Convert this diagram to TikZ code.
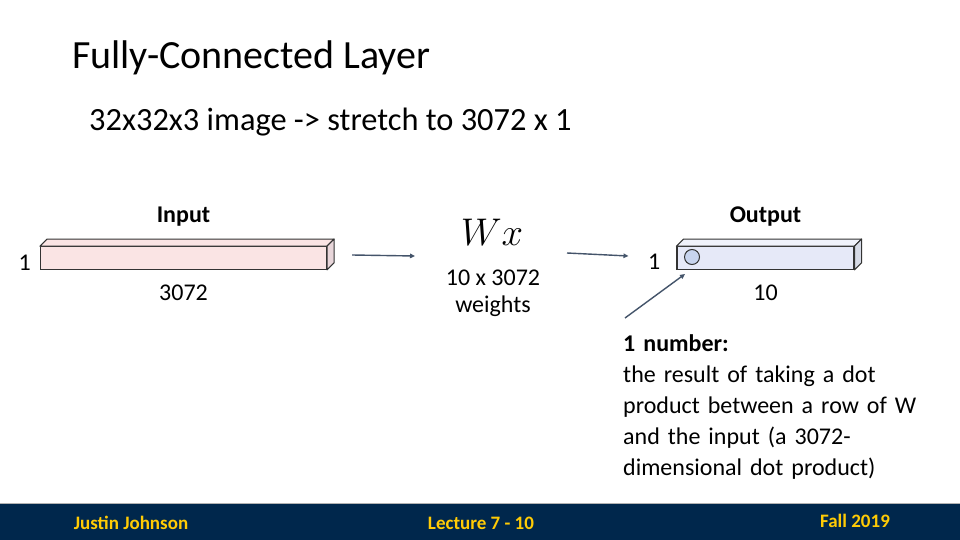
\documentclass[tikz,border=0pt]{standalone}
\usepackage{graphicx}
\usepackage{fontspec}
\setmainfont{Carlito}
\usetikzlibrary{positioning,arrows.meta}

\definecolor{pinkfront}{RGB}{250,228,228}
\definecolor{pinkside}{RGB}{232,214,218}
\definecolor{bluefront}{RGB}{230,233,248}
\definecolor{blueside}{RGB}{214,218,230}
\definecolor{dotfill}{RGB}{200,212,238}
\definecolor{arrowc}{RGB}{68,84,106}
\definecolor{navy}{RGB}{0,39,76}
\definecolor{maize}{RGB}{255,203,5}

\begin{document}
\begin{tikzpicture}[
  x=1pt,y=-1pt,
  txt/.style={inner sep=0pt,font=\fontsize{24}{27}\selectfont},
  lbl/.style={txt,font=\fontsize{24}{27}\selectfont\bfseries},
  bar/.style={draw=black!80,line width=1.1pt,minimum height=22.6pt,inner sep=0pt},
  face/.style={draw=black!80,line width=1.1pt,line join=round},
  a/.style={-{Triangle[length=5pt,width=4.5pt]},draw=arrowc,line width=1.4pt},
  foot/.style={inner sep=0pt,text=maize,font=\fontsize{19}{22}\selectfont\bfseries},
]
  \useasboundingbox (0,0) rectangle (960,540);
  \fill[white] (0,0) rectangle (960,540);

  % title and subtitle
  \node[anchor=base west,inner sep=0pt,font=\fontsize{40}{48}\selectfont] (title) at (72,69) {Fully-Connected Layer};
  \node[anchor=base west,inner sep=0pt,font=\fontsize{32.4}{38}\selectfont] (sub) at (89,131) {32x32x3 image -> stretch to 3072 x 1};

  % input bar
  \node[bar,fill=pinkfront,minimum width=286pt] (inbar) at (183.5,258) {};
  \draw[face,fill=pinkfront] (inbar.north west) -- ++(7,-7) -- ([shift={(7,-7)}]inbar.north east) -- (inbar.north east) -- cycle;
  \draw[face,fill=pinkside] (inbar.north east) -- ++(7,-7) -- ([shift={(7,-7)}]inbar.south east) -- (inbar.south east) -- cycle;
  \node[lbl,above=20pt of inbar] (inlbl) {Input};
  \node[txt,left=9pt of inbar,yshift=-5pt] (inone) {1};
  \node[txt,below=15pt of inbar] (indim) {3072};

  % weights
  \node[txt] (wx) at (492,232) {\scalebox{1.55}{$Wx$}};
  \node[txt,align=center] (wts) at (493,293) {10 x 3072\\weights};

  % output bar
  \node[bar,fill=bluefront,minimum width=177pt] (outbar) at (765.5,258) {};
  \draw[face,fill=bluefront!60!white] (outbar.north west) -- ++(7,-7) -- ([shift={(7,-7)}]outbar.north east) -- (outbar.north east) -- cycle;
  \draw[face,fill=blueside] (outbar.north east) -- ++(7,-7) -- ([shift={(7,-7)}]outbar.south east) -- (outbar.south east) -- cycle;
  \node[circle,draw=black!80,line width=1pt,fill=dotfill,minimum size=15pt,inner sep=0pt] (dot) at (692,257) {};
  \node[lbl,above=20pt of outbar] (outlbl) {Output};
  \node[txt,left=16pt of outbar,yshift=-4pt] (outone) {1};
  \node[txt,below=15pt of outbar] (outdim) {10};

  % note
  \node[anchor=north west,inner sep=0pt,align=left,text width=320pt,font=\fontsize{24}{31}\selectfont] (note) at (623,334)
    {\textbf{1 number:}\\the result of taking a dot\\product between a row of W\\and the input (a 3072-\\dimensional dot product)};

  % arrows
  \draw[a] ([xshift=25pt,yshift=3pt]inbar.east) -- ([xshift=-77pt,yshift=-24pt]wx.center);
  \draw[a] ([xshift=75pt,yshift=-21pt]wx.center) -- ([xshift=-48pt,yshift=2pt]outbar.west);
  \draw[a] ([xshift=2pt,yshift=16pt]note.north west) -- ([xshift=-7pt,yshift=-17pt]dot.center);

  % footer
  \fill[navy] (0,503) rectangle (960,540);
  \draw[black!30,line width=1pt] (0,503) -- (960,503);
  \node[foot] (author) at (131,523) {Justin Johnson};
  \node[foot] (lect) at (481,523) {Lecture 7 - 10};
  \node[foot] (term) at (855,521) {Fall 2019};
\end{tikzpicture}
\end{document}
